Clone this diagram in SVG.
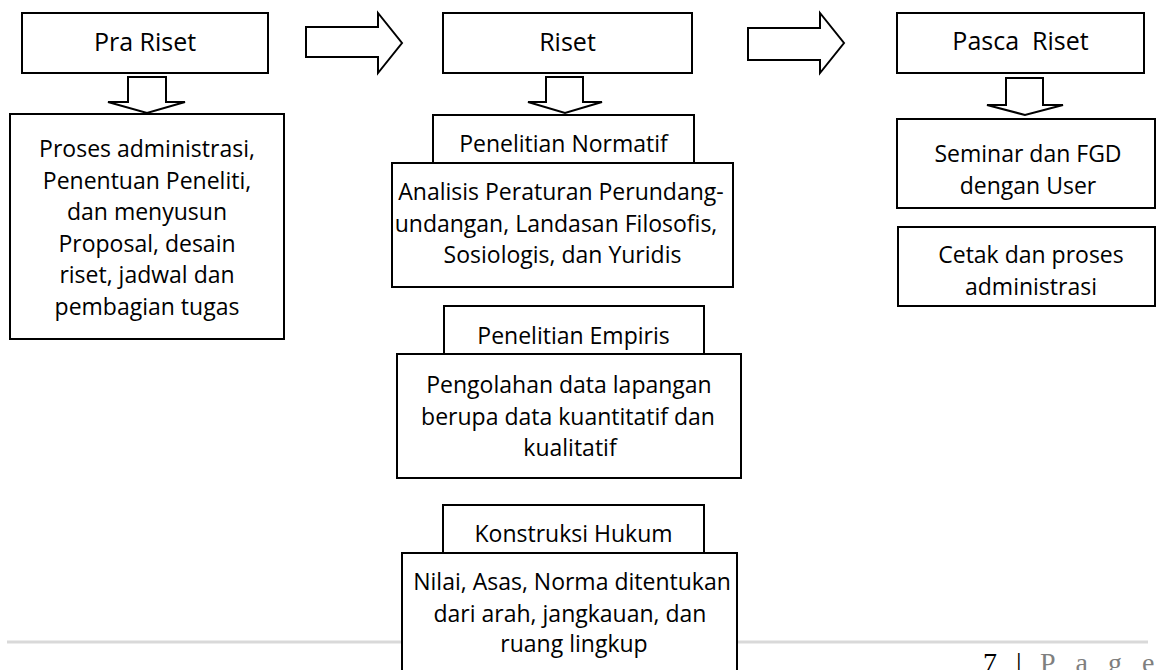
<svg xmlns="http://www.w3.org/2000/svg" width="1156" height="670" viewBox="0 0 1156 670">
  <style>
    .box { fill: #ffffff; stroke: #000000; stroke-width: 2; }
    .arrow { fill: #ffffff; stroke: #000000; stroke-width: 2; stroke-linejoin: miter; }
    .t { font-family: "Open Sans", "Noto Sans", sans-serif; font-size: 23px; fill: #000000; text-anchor: middle; white-space: pre; }
    .title { font-size: 25px; }
    .rule { stroke: #d9d9d9; stroke-width: 3; }
    .footer { font-family: "Liberation Serif", "DejaVu Serif", serif; font-size: 28px; fill: #000000; }
    .pg { fill: #7f7f7f; letter-spacing: 20px; }
  </style>

  <!-- footer rule, partly hidden behind the lowest box -->
  <line class="rule" x1="7" y1="642" x2="1148" y2="642"/>
  <text class="footer" x="983" y="672">7 <tspan x="1016">|</tspan><tspan class="pg" x="1040">Page</tspan></text>

  <!-- block arrows between stages and into each stage's content -->
  <g id="connectors">
    <polygon class="arrow" points="306,27 378,27 378,13 402,43 378,73 378,57 306,57"/>
    <polygon class="arrow" points="748,28 820,28 820,13 844,43 820,73 820,60 748,60"/>
    <polygon class="arrow" points="128,77 166,77 166,102 185,102 147,113 108,102 128,102"/>
    <polygon class="arrow" points="546,77 583,77 583,102 602,102 565,113 528,102 546,102"/>
    <polygon class="arrow" points="1006,78 1043,78 1043,105 1063,105 1025,115 987,105 1006,105"/>
  </g>

  <!-- stage headers -->
  <g id="pra-riset">
    <rect class="box" x="22" y="13" width="246" height="60"/>
    <text class="t title" x="145" y="51">Pra Riset</text>
  </g>
  <g id="riset">
    <rect class="box" x="443" y="13" width="249" height="60"/>
    <text class="t title" x="567.5" y="51">Riset</text>
  </g>
  <g id="pasca-riset">
    <rect class="box" x="897" y="13" width="247" height="60"/>
    <text class="t title" x="1020.5" y="50">Pasca  Riset</text>
  </g>

  <!-- Pra Riset content -->
  <g id="pra-proses">
    <rect class="box" x="10" y="114" width="274" height="225"/>
    <text class="t" x="147" y="157">Proses administrasi,</text>
    <text class="t" x="147" y="188.5">Penentuan Peneliti,</text>
    <text class="t" x="147" y="220">dan menyusun</text>
    <text class="t" x="147" y="251.5">Proposal, desain</text>
    <text class="t" x="147" y="283">riset, jadwal dan</text>
    <text class="t" x="147" y="314.5">pembagian tugas</text>
  </g>

  <!-- Riset content -->
  <g id="penelitian-normatif">
    <rect class="box" x="433" y="115" width="261" height="48"/>
    <text class="t" x="563.5" y="152">Penelitian Normatif</text>
  </g>
  <g id="analisis">
    <rect class="box" x="392" y="163" width="341" height="124"/>
    <text class="t" x="561" y="200">Analisis Peraturan Perundang-</text>
    <text class="t" x="556" y="231.5">undangan, Landasan Filosofis,</text>
    <text class="t" x="562.5" y="263">Sosiologis, dan Yuridis</text>
  </g>

  <g id="penelitian-empiris">
    <rect class="box" x="444" y="306" width="260" height="48"/>
    <text class="t" x="573.5" y="344">Penelitian Empiris</text>
  </g>
  <g id="pengolahan">
    <rect class="box" x="397" y="354" width="344" height="124"/>
    <text class="t" x="569" y="393">Pengolahan data lapangan</text>
    <text class="t" x="568" y="424.5">berupa data kuantitatif dan</text>
    <text class="t" x="570" y="456">kualitatif</text>
  </g>

  <g id="konstruksi-hukum">
    <rect class="box" x="443" y="505" width="261" height="48"/>
    <text class="t" x="573.5" y="542">Konstruksi Hukum</text>
  </g>
  <g id="nilai-asas-norma">
    <rect class="box" x="402" y="553" width="335" height="150"/>
    <text class="t" x="572" y="590">Nilai, Asas, Norma ditentukan</text>
    <text class="t" x="570" y="621.5">dari arah, jangkauan, dan</text>
    <text class="t" x="574" y="652">ruang lingkup</text>
  </g>

  <!-- Pasca Riset content -->
  <g id="seminar-fgd">
    <rect class="box" x="897" y="119" width="258" height="89"/>
    <text class="t" x="1028" y="162">Seminar dan FGD</text>
    <text class="t" x="1028" y="193.5">dengan User</text>
  </g>
  <g id="cetak">
    <rect class="box" x="898" y="227" width="257" height="79"/>
    <text class="t" x="1031" y="263">Cetak dan proses</text>
    <text class="t" x="1031" y="294.5">administrasi</text>
  </g>
</svg>
